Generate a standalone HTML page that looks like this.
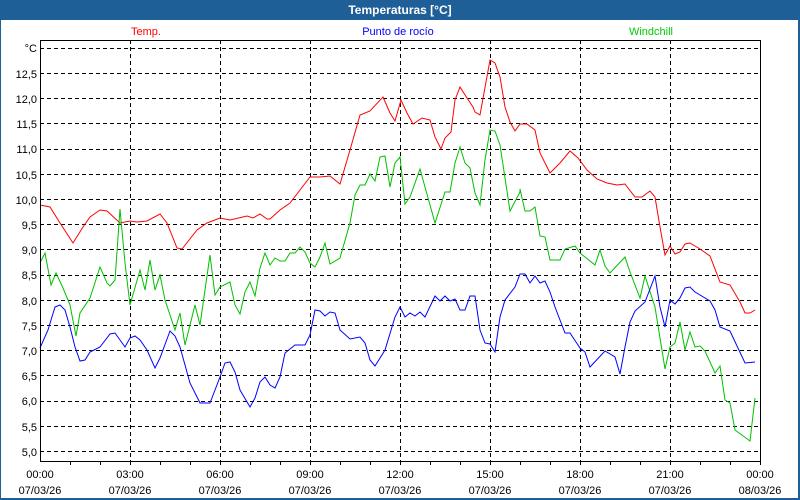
<!DOCTYPE html>
<html><head><meta charset="utf-8"><style>
html,body{margin:0;padding:0;background:#fff}
svg{display:block}
text{font-family:"Liberation Sans",Tahoma,sans-serif;font-size:11px}
</style></head><body>
<svg width="800" height="500" viewBox="0 0 800 500" xmlns="http://www.w3.org/2000/svg">
<rect x="0" y="0" width="800" height="500" fill="#1f5f97"/>
<rect x="1" y="20" width="797" height="478" fill="#fff"/>
<text x="400" y="14" fill="#fff" text-anchor="middle" style="font-weight:bold;font-size:12px">Temperaturas [°C]</text>
<text x="146" y="35" fill="#ff0000" text-anchor="middle">Temp.</text>
<text x="398" y="35" fill="#0000ff" text-anchor="middle">Punto de rocío</text>
<text x="651" y="35" fill="#00cc00" text-anchor="middle">Windchill</text>
<g stroke="#000" stroke-dasharray="4,3" stroke-width="1" shape-rendering="crispEdges">
<line x1="40" y1="48.5" x2="760" y2="48.5"/><line x1="40" y1="73.5" x2="760" y2="73.5"/>
<line x1="40" y1="98.5" x2="760" y2="98.5"/><line x1="40" y1="123.5" x2="760" y2="123.5"/>
<line x1="40" y1="149.5" x2="760" y2="149.5"/><line x1="40" y1="174.5" x2="760" y2="174.5"/>
<line x1="40" y1="199.5" x2="760" y2="199.5"/><line x1="40" y1="224.5" x2="760" y2="224.5"/>
<line x1="40" y1="249.5" x2="760" y2="249.5"/><line x1="40" y1="275.5" x2="760" y2="275.5"/>
<line x1="40" y1="300.5" x2="760" y2="300.5"/><line x1="40" y1="325.5" x2="760" y2="325.5"/>
<line x1="40" y1="350.5" x2="760" y2="350.5"/><line x1="40" y1="375.5" x2="760" y2="375.5"/>
<line x1="40" y1="401.5" x2="760" y2="401.5"/><line x1="40" y1="426.5" x2="760" y2="426.5"/>
<line x1="40" y1="451.5" x2="760" y2="451.5"/>
<line x1="130.5" y1="40" x2="130.5" y2="461"/><line x1="220.5" y1="40" x2="220.5" y2="461"/>
<line x1="310.5" y1="40" x2="310.5" y2="461"/><line x1="400.5" y1="40" x2="400.5" y2="461"/>
<line x1="490.5" y1="40" x2="490.5" y2="461"/><line x1="580.5" y1="40" x2="580.5" y2="461"/>
<line x1="670.5" y1="40" x2="670.5" y2="461"/>
</g>
<g fill="none" stroke-width="1">
<polyline stroke="#ff0000" points="40,205 50,207 60,223 73,243 83,227 90,217 100,210 107,211 120,223 130,221 137,222 147,221 160,214 167,223 177,248 182,249 197,230 207,223 220,218 230,220 247,216 253,218 260,214 267,219 270,219 280,210 290,203 300,190 310,177 320,177 330,176 340,184 350,150 360,115 370,111 383,97 390,113 395,121 401,100 407,113 413,124 422,118 430,120 435,137 441,149 445,138 451,132 455,100 460,87 467,98 473,107 475,112 480,115 490,60 495,63 500,77 505,107 510,122 515,131 520,124 527,124 535,130 540,153 550,173 560,163 570,151 578,158 587,170 597,179 607,183 617,185 625,184 635,197 642,197 650,191 655,197 660,227 665,255 670,246 675,254 680,252 685,244 690,243 700,249 710,256 720,282 730,285 740,302 745,313 750,313 755,310"/>
<polyline stroke="#00c000" points="40,263 45,253 51,285 56,273 63,288 70,305 76,336 80,313 90,298 100,267 107,283 110,286 115,280 120,209 125,263 130,305 140,270 145,290 150,260 155,290 160,275 165,300 175,330 180,313 185,345 195,305 200,325 210,255 215,295 220,287 230,282 235,305 240,314 245,292 250,282 255,296 260,268 265,253 270,265 275,258 280,261 285,261 290,253 295,253 300,247 305,252 310,263 315,267 320,257 325,243 330,264 340,258 350,223 355,195 360,185 365,185 370,174 375,181 380,157 385,156 390,187 395,163 400,157 405,204 410,197 420,169 435,223 445,192 450,192 455,163 460,147 465,163 470,168 475,193 480,205 485,160 490,130 495,131 500,145 510,211 520,192 520,189 525,211 530,211 535,207 540,236 545,237 550,260 560,260 565,249 575,246 580,253 595,265 600,250 605,266 610,273 625,257 630,272 640,298 645,276 655,307 660,338 665,369 670,347 675,343 680,322 685,350 690,332 695,347 700,346 705,351 715,373 720,366 725,400 730,403 735,430 750,441 755,398"/>
<polyline stroke="#0000ff" points="40,348 48,330 55,307 60,305 65,310 70,327 75,347 80,361 85,360 90,352 100,347 110,334 115,333 120,340 125,347 130,338 135,336 140,340 147,350 155,368 160,358 170,331 175,336 180,347 190,383 200,403 210,403 215,390 220,377 225,363 230,362 235,372 240,390 250,407 255,398 260,382 265,377 270,385 275,388 280,377 285,353 295,345 305,345 310,335 315,310 320,311 325,316 330,312 335,313 340,330 350,339 360,337 365,343 370,360 375,366 385,350 395,317 400,307 405,317 410,313 415,316 420,312 425,317 435,296 440,301 445,296 450,301 455,299 460,310 465,310 470,296 475,296 480,330 485,343 490,344 495,352 500,317 505,300 515,287 520,274 525,274 530,283 535,276 540,283 545,281 550,292 555,307 565,333 570,333 580,348 585,352 590,367 605,351 615,357 620,374 625,347 630,322 635,311 645,302 655,276 660,307 665,327 670,300 675,304 680,298 685,288 690,287 695,292 710,301 715,310 720,327 730,331 745,363 755,362"/>
</g>
<g stroke="#000" stroke-width="1" shape-rendering="crispEdges" fill="none">
<rect x="40.5" y="40.5" width="720" height="421"/>
<path d="M70.5 461v4M100.5 461v4M130.5 461v4M160.5 461v4M190.5 461v4M220.5 461v4M250.5 461v4M280.5 461v4M310.5 461v4M340.5 461v4M370.5 461v4M400.5 461v4M430.5 461v4M460.5 461v4M490.5 461v4M520.5 461v4M550.5 461v4M580.5 461v4M610.5 461v4M640.5 461v4M670.5 461v4M700.5 461v4M730.5 461v4M760.5 461v4"/>
</g>
<g text-anchor="end" fill="#000">
<text x="37" y="52">°C</text>
<text x="37" y="78">12,5</text><text x="37" y="103">12,0</text><text x="37" y="128">11,5</text>
<text x="37" y="153">11,0</text><text x="37" y="179">10,5</text><text x="37" y="204">10,0</text>
<text x="37" y="229">9,5</text><text x="37" y="254">9,0</text><text x="37" y="279">8,5</text>
<text x="37" y="305">8,0</text><text x="37" y="330">7,5</text><text x="37" y="355">7,0</text>
<text x="37" y="380">6,5</text><text x="37" y="405">6,0</text><text x="37" y="431">5,5</text>
<text x="37" y="456">5,0</text>
</g>
<g text-anchor="middle" fill="#000">
<text x="40" y="478">00:00</text><text x="40" y="494">07/03/26</text>
<text x="130" y="478">03:00</text><text x="130" y="494">07/03/26</text>
<text x="220" y="478">06:00</text><text x="220" y="494">07/03/26</text>
<text x="310" y="478">09:00</text><text x="310" y="494">07/03/26</text>
<text x="400" y="478">12:00</text><text x="400" y="494">07/03/26</text>
<text x="490" y="478">15:00</text><text x="490" y="494">07/03/26</text>
<text x="580" y="478">18:00</text><text x="580" y="494">07/03/26</text>
<text x="670" y="478">21:00</text><text x="670" y="494">07/03/26</text>
<text x="760" y="478">00:00</text><text x="760" y="494">08/03/26</text>
</g>
</svg>
</body></html>
